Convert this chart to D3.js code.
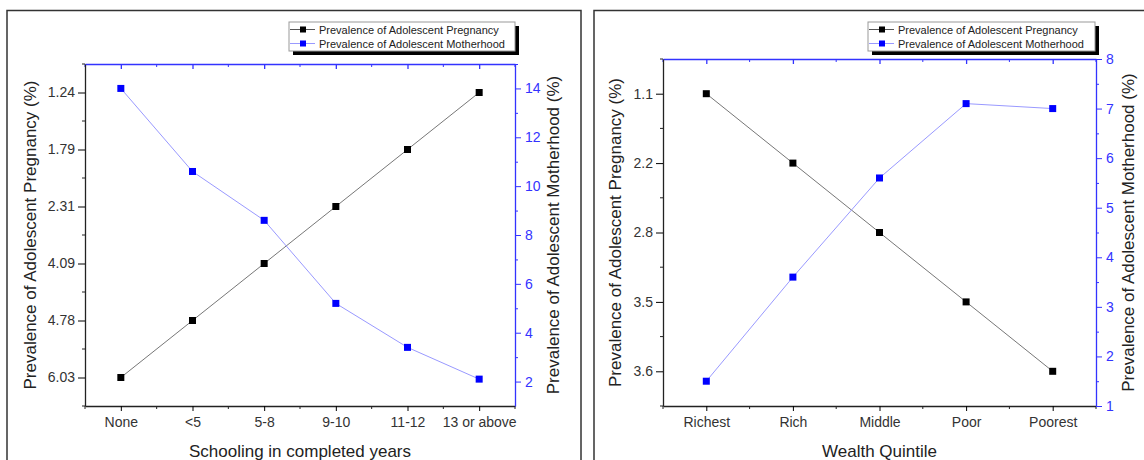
<!DOCTYPE html>
<html>
<head>
<meta charset="utf-8">
<script src="https://cdn.jsdelivr.net/npm/d3@7"></script>
<style>
  body { margin: 0; background: #fff; }
  svg { display: block; font-family: "Liberation Sans", Arial, sans-serif; }
  .tick text { fill: #333; }
</style>
</head>
<body>
<svg id="chart" width="1144" height="460"></svg>
<script>
// data
const schoolingCategories = ["None", "<5", "5-8", "9-10", "11-12", "13 or above"];
const schoolingPregnancy = [6.03, 4.78, 4.09, 2.31, 1.79, 1.24];
const schoolingMotherhood = [14, 10.6, 8.6, 5.2, 3.4, 2.1];
const schoolingPregnancyTicks = [1.24, 1.79, 2.31, 4.09, 4.78, 6.03];
const schoolingMotherhoodTicks = [2, 4, 6, 8, 10, 12, 14];

const wealthCategories = ["Richest", "Rich", "Middle", "Poor", "Poorest"];
const wealthPregnancy = [1.1, 2.2, 2.8, 3.5, 3.6];
const wealthMotherhood = [1.5, 3.6, 5.6, 7.1, 7.0];
const wealthPregnancyTicks = [1.1, 2.2, 2.8, 3.5, 3.6];
const wealthMotherhoodTicks = [1, 2, 3, 4, 5, 6, 7, 8];

const legendNames = ["Prevalence of Adolescent Pregnancy", "Prevalence of Adolescent Motherhood"];

const blue = "#3333ff";
const svg = d3.select("#chart");

// panel frames
svg.append("rect").attr("x", 7).attr("y", 10.5).attr("width", 574).attr("height", 470)
  .attr("fill", "none").attr("stroke", "#333").attr("stroke-width", 1.5);
svg.append("rect").attr("x", 594).attr("y", 10.5).attr("width", 570).attr("height", 470)
  .attr("fill", "none").attr("stroke", "#333").attr("stroke-width", 1.5);

drawPanel({
  left: 85, right: 515, top: 64, bottom: 406,
  cats: schoolingCategories, preg: schoolingPregnancy, moth: schoolingMotherhood,
  pregTicks: schoolingPregnancyTicks, pregFmt: d => d.toFixed(2),
  mothTicks: schoolingMotherhoodTicks, mothDomain: [1, 15], mothMinor: [3, 5, 7, 9, 11, 13, 15],
  xTitle: "Schooling in completed years", leftTitleX: 36, rightTitleX: 559,
  legendX: 289, legendW: 226
});

drawPanel({
  left: 663, right: 1096, top: 59, bottom: 406,
  cats: wealthCategories, preg: wealthPregnancy, moth: wealthMotherhood,
  pregTicks: wealthPregnancyTicks, pregFmt: d => d.toFixed(1),
  mothTicks: wealthMotherhoodTicks, mothDomain: [1, 8], mothMinor: [1.5, 2.5, 3.5, 4.5, 5.5, 6.5, 7.5],
  xTitle: "Wealth Quintile", leftTitleX: 621, rightTitleX: 1134,
  legendX: 868, legendW: 227
});

function drawPanel(p) {
  const g = svg.append("g");

  const x = d3.scalePoint().domain(p.cats).range([p.left, p.right]).padding(0.5);
  const yPreg = d3.scalePoint().domain(p.pregTicks).range([p.top, p.bottom]).padding(0.5);
  const yMoth = d3.scaleLinear().domain(p.mothDomain).range([p.bottom, p.top]);

  // bottom axis
  const bottomAxis = g.append("g").attr("transform", `translate(0,${p.bottom})`)
    .call(d3.axisBottom(x).tickSize(5).tickSizeOuter(0).tickPadding(6));
  bottomAxis.selectAll("text").attr("font-size", 14);
  bottomAxis.select(".domain").attr("stroke", "#222").attr("stroke-width", 1.3);

  // top axis, blue, ticks inside
  const topAxis = g.append("g").attr("transform", `translate(0,${p.top})`)
    .call(d3.axisTop(x).tickSize(-5).tickSizeOuter(0).tickFormat(""));
  topAxis.selectAll("line").attr("stroke", blue).attr("stroke-width", 1.3);
  topAxis.select(".domain").attr("stroke", blue).attr("stroke-width", 1.3);

  // minor x ticks between categories
  const xMinor = d3.range(x.domain().length + 1).map(i => p.left + i * x.step());
  g.selectAll(null).data(xMinor).enter().append("line")
    .attr("x1", d => d).attr("x2", d => d).attr("y1", p.bottom).attr("y2", p.bottom + 3)
    .attr("stroke", "#222");
  g.selectAll(null).data(xMinor).enter().append("line")
    .attr("x1", d => d).attr("x2", d => d).attr("y1", p.top).attr("y2", p.top + 3)
    .attr("stroke", blue);

  // left axis
  const leftAxis = g.append("g").attr("transform", `translate(${p.left},0)`)
    .call(d3.axisLeft(yPreg).tickSize(7).tickSizeOuter(0).tickPadding(3).tickFormat(p.pregFmt));
  leftAxis.selectAll("text").attr("font-size", 14);
  leftAxis.select(".domain").attr("stroke", "#222").attr("stroke-width", 1.3);
  const yMinor = d3.range(yPreg.domain().length + 1).map(i => p.top + i * yPreg.step());
  g.selectAll(null).data(yMinor).enter().append("line")
    .attr("x1", p.left - 3).attr("x2", p.left).attr("y1", d => d).attr("y2", d => d)
    .attr("stroke", "#222");

  // right axis, blue
  const rightAxis = g.append("g").attr("transform", `translate(${p.right},0)`)
    .call(d3.axisRight(yMoth).tickValues(p.mothTicks).tickFormat(d3.format("d"))
      .tickSize(6).tickSizeOuter(0).tickPadding(4));
  rightAxis.selectAll("text").attr("font-size", 14).style("fill", blue);
  rightAxis.selectAll("line").attr("stroke", blue);
  rightAxis.select(".domain").attr("stroke", blue).attr("stroke-width", 1.3);
  g.append("g").attr("transform", `translate(${p.right},0)`)
    .call(d3.axisRight(yMoth).tickValues(p.mothMinor).tickSize(3).tickSizeOuter(0).tickFormat(""))
    .call(a => a.select(".domain").remove())
    .selectAll("line").attr("stroke", blue);

  // lines
  const pregPts = p.cats.map((c, i) => [x(c), yPreg(p.preg[i])]);
  const mothPts = p.cats.map((c, i) => [x(c), yMoth(p.moth[i])]);
  g.append("path").attr("d", d3.line()(pregPts)).attr("fill", "none")
    .attr("stroke", "#777").attr("stroke-width", 1);
  g.append("path").attr("d", d3.line()(mothPts)).attr("fill", "none")
    .attr("stroke", "#9999ff").attr("stroke-width", 1);
  g.selectAll(null).data(pregPts).enter().append("rect")
    .attr("x", d => d[0] - 3.5).attr("y", d => d[1] - 3.5).attr("width", 7).attr("height", 7)
    .attr("fill", "#000");
  g.selectAll(null).data(mothPts).enter().append("rect")
    .attr("x", d => d[0] - 3.5).attr("y", d => d[1] - 3.5).attr("width", 7).attr("height", 7)
    .attr("fill", "#0000ff");

  // axis titles
  g.append("text").attr("x", (p.left + p.right) / 2).attr("y", 457)
    .attr("text-anchor", "middle").attr("font-size", 17).attr("fill", "#222").text(p.xTitle);
  const midY = (p.top + p.bottom) / 2;
  g.append("text").attr("transform", `translate(${p.leftTitleX},${midY}) rotate(-90)`)
    .attr("text-anchor", "middle").attr("font-size", 17).attr("fill", "#222")
    .text("Prevalence of Adolescent Pregnancy (%)");
  g.append("text").attr("transform", `translate(${p.rightTitleX},${midY}) rotate(-90)`)
    .attr("text-anchor", "middle").attr("font-size", 17).attr("fill", "#222")
    .text("Prevalence of Adolescent Motherhood (%)");

  // legend with drop shadow
  const lg = g.append("g").attr("transform", `translate(${p.legendX},22)`);
  lg.append("rect").attr("x", 4).attr("y", 4).attr("width", p.legendW).attr("height", 29).attr("fill", "#000");
  lg.append("rect").attr("width", p.legendW).attr("height", 29).attr("fill", "#fff")
    .attr("stroke", "#999").attr("stroke-width", 1);
  const colors = [["#555", "#000"], ["#9999ff", "#0000ff"]];
  legendNames.forEach((name, i) => {
    const yy = 7.5 + i * 14;
    lg.append("line").attr("x1", 1).attr("x2", 26).attr("y1", yy).attr("y2", yy)
      .attr("stroke", colors[i][0]);
    lg.append("rect").attr("x", 11).attr("y", yy - 3).attr("width", 6).attr("height", 6)
      .attr("fill", colors[i][1]);
    lg.append("text").attr("x", 30).attr("y", yy + 4).attr("font-size", 11).attr("fill", "#222")
      .text(name);
  });
}
</script>
</body>
</html>
